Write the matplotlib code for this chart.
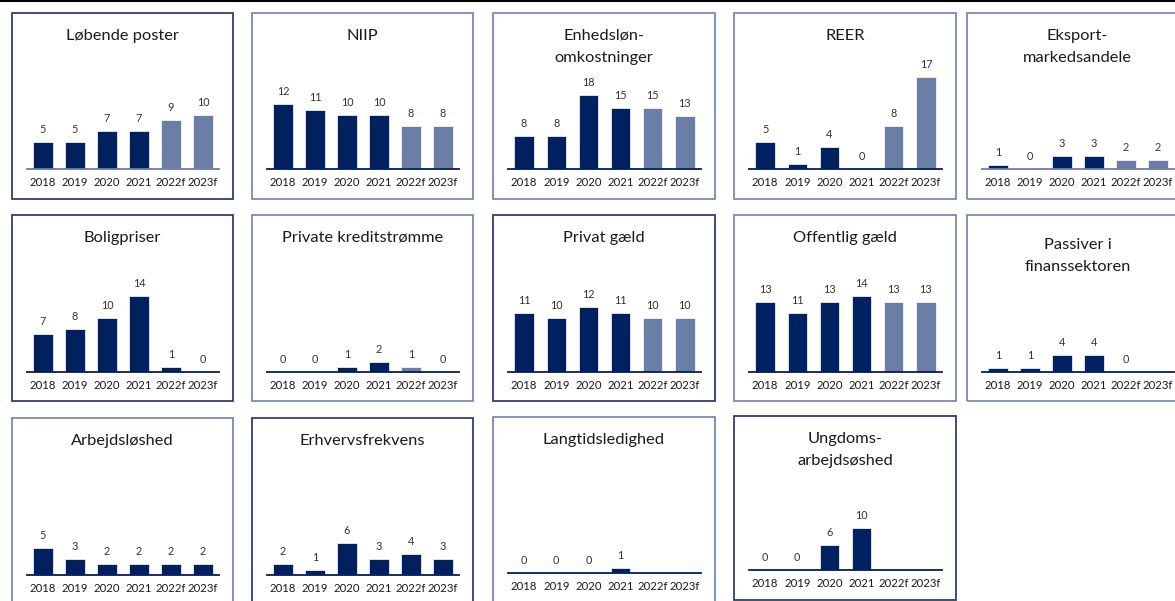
import matplotlib
matplotlib.use("Agg")
import matplotlib.pyplot as plt
from matplotlib.patches import Rectangle

plt.rcParams['font.family'] = ['Lato', 'DejaVu Sans']

years = ["2018", "2019", "2020", "2021", "2022f", "2023f"]

titles = [
    "Løbende poster", "NIIP", "Enhedsløn-\nomkostninger", "REER", "Eksport-\nmarkedsandele",
    "Boligpriser", "Private kreditstrømme", "Privat gæld", "Offentlig gæld", "Passiver i\nfinanssektoren",
    "Arbejdsløshed", "Erhvervsfrekvens", "Langtidsledighed", "Ungdoms-\narbejdsøshed",
]

lobende_poster = [5, 5, 7, 7, 9, 10]
niip = [12, 11, 10, 10, 8, 8]
enhedslon = [8, 8, 18, 15, 15, 13]
reer = [5, 1, 4, 0, 8, 17]
eksport = [1, 0, 3, 3, 2, 2]
boligpriser = [7, 8, 10, 14, 1, 0]
kreditstromme = [0, 0, 1, 2, 1, 0]
privat_gaeld = [11, 10, 12, 11, 10, 10]
offentlig_gaeld = [13, 11, 13, 14, 13, 13]
passiver = [1, 1, 4, 4, 0, None]
arbejdsloshed = [5, 3, 2, 2, 2, 2]
erhvervsfrekvens = [2, 1, 6, 3, 4, 3]
langtidsledighed = [0, 0, 0, 1, None, None]
ungdom = [0, 0, 6, 10, None, None]

series = [lobende_poster, niip, enhedslon, reer, eksport,
          boligpriser, kreditstromme, privat_gaeld, offentlig_gaeld, passiver,
          arbejdsloshed, erhvervsfrekvens, langtidsledighed, ungdom]

# whether forecast bars (2022f, 2023f) are drawn in the lighter colour
forecast_light = [True, True, True, True, True,
                  False, True, True, True, False,
                  False, False, False, False]

DARK = "#002060"
LIGHT = "#6B7EA6"
BORDER_DARK = "#2F3F73"
BORDER_LIGHT = "#7A8BB3"

W, H = 1175, 601
fig = plt.figure(figsize=(W / 100, H / 100), dpi=100)

def fx(x):
    return x / W

def fy(y):
    return 1 - y / H

# box layout in pixels
cols = [(12, 233), (252, 473), (493, 715), (734, 956), (967, 1188)]
rows = [(13, 199, 169), (215, 401, 372), (418, 606, 575)]
border = [BORDER_DARK, BORDER_LIGHT, BORDER_LIGHT, BORDER_LIGHT, BORDER_LIGHT,
          BORDER_DARK, BORDER_LIGHT, BORDER_DARK, BORDER_LIGHT, BORDER_LIGHT,
          BORDER_LIGHT, BORDER_DARK, BORDER_LIGHT, BORDER_DARK]
axis_col = [LIGHT, DARK, DARK, DARK, LIGHT,
            DARK, DARK, DARK, DARK, DARK,
            DARK, DARK, DARK, DARK]
# vertical scale of each panel (pixels per unit)
px_per_unit = [5.4, 5.4, 4.1, 5.4, 4.4,
               5.4, 5.1, 5.4, 5.4, 4.25,
               5.5, 5.3, 5.2, 4.2]

AX_H = 110

# top rule
fig.add_artist(plt.Line2D([0, 1], [fy(1), fy(1)], color="black", lw=1.5,
                          transform=fig.transFigure))

for k, (title, vals) in enumerate(zip(titles, series)):
    r, c = divmod(k, 5)
    x0, x1 = cols[c]
    top, bot, base = rows[r]
    if k == 12:
        top, base = 417, 573
    if k == 13:
        top, bot, base = 416, 600, 570
    fig.add_artist(Rectangle((fx(x0), fy(bot)), fx(x1 - x0), (bot - top) / H,
                             transform=fig.transFigure, fill=False,
                             edgecolor=border[k], lw=1.3))
    ty = top + (30 if k == 9 else 23)
    lines = title.split("\n")
    for j, line in enumerate(lines):
        fig.text(fx((x0 + x1) / 2), fy(ty + 22 * j), line, ha="center",
                 va="center", fontsize=11.8, color="#1a1a1a")

    ax_l = x0 + 15
    ax_r = x1 - 14
    ax = fig.add_axes([fx(ax_l), fy(base), fx(ax_r - ax_l), AX_H / H])
    ax.set_xlim(-0.5, 5.5)
    ax.set_ylim(0, AX_H / px_per_unit[k])
    for i, v in enumerate(vals):
        if v is None:
            continue
        col = LIGHT if (i >= 4 and forecast_light[k]) else DARK
        ax.bar(i, v, width=0.6, color=col, edgecolor="white", linewidth=0.5,
               clip_on=False)
        ax.annotate(str(v), (i, v), xytext=(0, 5), textcoords="offset points",
                    ha="center", va="bottom", fontsize=7.8, color="#333333")
    ax.set_xticks(range(len(years)))
    ax.set_xticklabels(years, fontsize=8.2, color="#1a1a1a")
    ax.tick_params(axis="x", length=0, pad=5.5)
    ax.set_yticks([])
    for s in ("top", "left", "right"):
        ax.spines[s].set_visible(False)
    ax.spines["bottom"].set_color(axis_col[k])
    ax.spines["bottom"].set_linewidth(1.3)
    ax.patch.set_visible(False)

fig.savefig("out.png", dpi=100)
